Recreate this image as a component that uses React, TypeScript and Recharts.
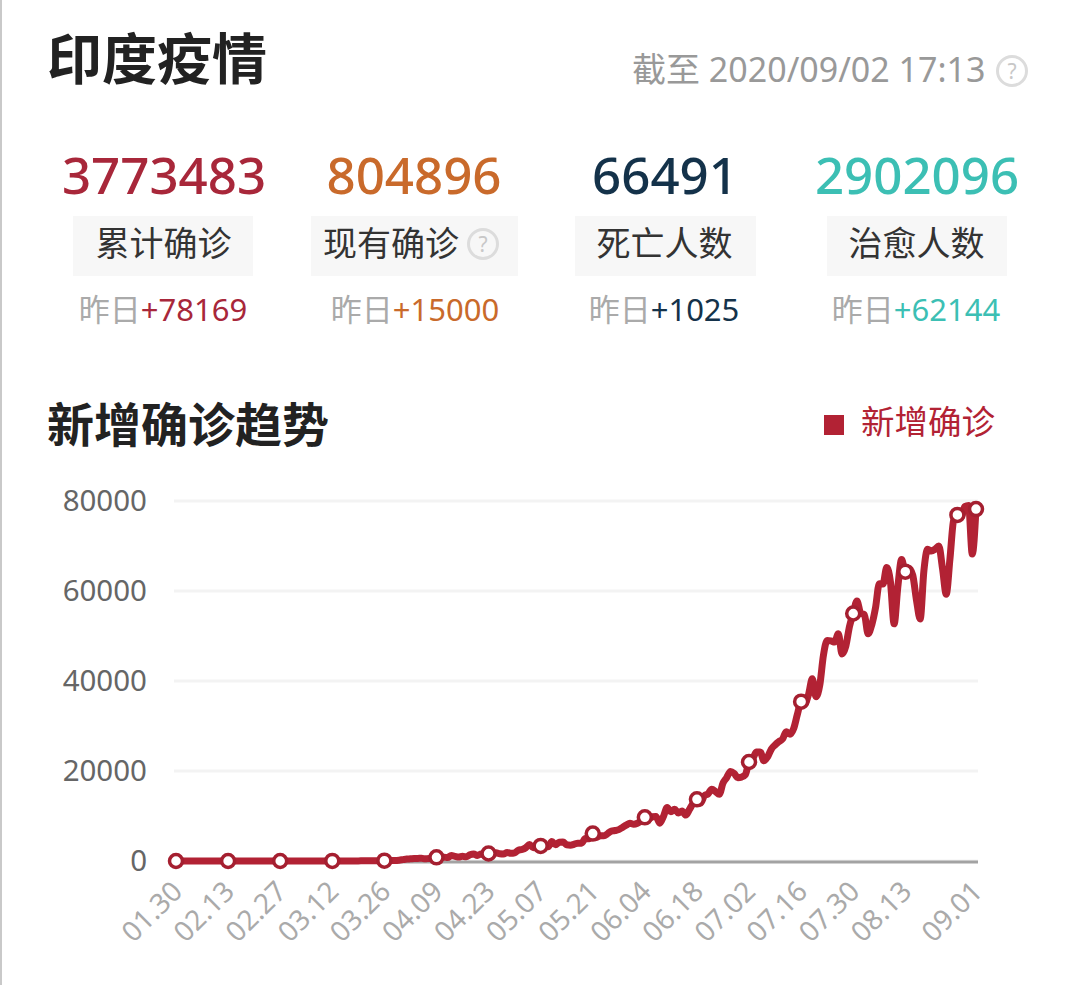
import { LineChart, Line, XAxis, YAxis, CartesianGrid, Legend } from "recharts";

const FONT = '"Noto Sans", "Noto Sans CJK SC", sans-serif';

// one value per day, 01.30 -> 09.01 (rows of ten)
const newConfirmed = [
  1, 0, 0, 1, 0, 0, 0, 0, 0, 0,
  0, 0, 0, 0, 0, 0, 0, 0, 0, 0,
  0, 0, 0, 0, 0, 0, 0, 0, 0, 0,
  0, 0, 2, 1, 22, 2, 1, 3, 5, 9,
  15, 8, 10, 10, 11, 10, 13, 22, 23, 26,
  50, 76, 69, 64, 77, 86, 73, 153, 136, 120,
  187, 309, 424, 486, 560, 579, 609, 484, 573, 565,
  813, 871, 854, 758, 1243, 1031, 886, 1061, 922, 1371,
  1580, 1239, 1537, 1292, 1667, 1408, 1835, 1607, 1568, 1902,
  1705, 1801, 2396, 2564, 2952, 3656, 2971, 3602, 3344, 3339,
  3175, 4311, 3592, 4163, 4213, 3604, 3525, 3722, 3967, 3970,
  4987, 4943, 6088, 5242, 5611, 5609, 6088, 6654, 6767, 6977,
  7466, 7964, 8364, 8171, 8392, 8909, 9700, 9304, 9851, 9887,
  8400, 9900, 11900, 10956, 11502, 10667, 11092, 10200, 11458, 12881,
  13700, 12881, 14516, 14933, 15968, 15413, 14821, 17296, 18552, 19906,
  19459, 18522, 18653, 19148, 22000, 22771, 24200, 24248, 22252, 23135,
  24879, 25790, 26500, 27114, 28701, 28178, 29429, 32607, 35400, 34956,
  37000, 40500, 36500, 39000, 45720, 49000, 48916, 48661, 50500, 46000,
  47704, 52123, 55000, 57800, 55079, 54736, 50500, 52509, 56282, 61600,
  61537, 65200, 62064, 52700, 60963, 67000, 64300, 65002, 63490, 57981,
  53800, 64531, 69300, 68900, 69300, 70000, 65000, 59300, 67151, 75760,
  76900, 76472, 78761, 79000, 68200, 78200,
];

const tickDays = [0, 14, 28, 42, 56, 70, 84, 98, 112, 126, 140, 154, 168, 182, 196, 215];
const tickLabels = [
  "01.30", "02.13", "02.27", "03.12", "03.26", "04.09", "04.23", "05.07",
  "05.21", "06.04", "06.18", "07.02", "07.16", "07.30", "08.13", "09.01",
];
const markerDays = [...tickDays, 210];
const yTicks = [0, 20000, 40000, 60000, 80000];

const statValues = ["3773483", "804896", "66491", "2902096"];
const statNames = ["累计确诊", "现有确诊", "死亡人数", "治愈人数"];
const statDeltas = ["+78169", "+15000", "+1025", "+62144"];
const statColors = ["#a8273a", "#c96a2b", "#14324a", "#3cbfb4"];
const statBoxes = [
  { left: 73, width: 180, center: 164 },
  { left: 311, width: 207, center: 414 },
  { left: 575, width: 181, center: 665 },
  { left: 827, width: 180, center: 917 },
];

const chartData = newConfirmed.map((value, i) => ({ day: i, value }));

function Txt({ x, y, size, color, weight, anchor, children }: any) {
  // y is the vertical middle of the text
  const tx = anchor === "middle" ? "-50%" : anchor === "end" ? "-100%" : "0";
  return (
    <div
      style={{
        position: "absolute",
        left: x,
        top: y,
        transform: `translate(${tx}, -50%)`,
        fontFamily: FONT,
        fontSize: size,
        fontWeight: weight ?? 400,
        color,
        whiteSpace: "nowrap",
        lineHeight: 1.2,
      }}
    >
      {children}
    </div>
  );
}

function HelpIcon({ x, y }: { x: number; y: number }) {
  return (
    <div
      style={{
        position: "absolute",
        left: x - 16,
        top: y - 16,
        width: 32,
        height: 32,
        boxSizing: "border-box",
        border: "3px solid #dcdcdc",
        borderRadius: "50%",
        color: "#c8c8c8",
        fontFamily: FONT,
        fontSize: 21,
        lineHeight: "26px",
        textAlign: "center",
      }}
    >
      ?
    </div>
  );
}

function MarkerDot(props: any) {
  const { cx, cy, index } = props;
  if (!markerDays.includes(index)) return <g key={index} />;
  return <circle key={index} cx={cx} cy={cy} r={6.5} fill="#ffffff" stroke="#a51f30" strokeWidth={3.5} />;
}

export default function App() {
  return (
    <div style={{ position: "absolute", left: 0, top: 0, width: 1080, height: 985, background: "#fff", overflow: "hidden" }}>
      <div style={{ position: "absolute", left: 0, top: 0, width: 2, height: 985, background: "#c9c9c9" }} />

      <Txt x={47} y={58} size={55} weight={700} color="#222">印度疫情</Txt>
      <Txt x={632} y={69} size={34} color="#999">截至 2020/09/02 17:13</Txt>
      <HelpIcon x={1012} y={71} />

      {statValues.map((v, i) => (
        <div key={v}>
          <Txt x={statBoxes[i].center} y={175} size={51} weight={500} anchor="middle" color={statColors[i]}>{v}</Txt>
          <div
            style={{
              position: "absolute",
              left: statBoxes[i].left,
              top: 216,
              width: statBoxes[i].width,
              height: 60,
              background: "#f7f7f7",
            }}
          />
          <Txt x={i === 1 ? 391 : statBoxes[i].center - 0.5} y={243} size={34} anchor="middle" color="#333">{statNames[i]}</Txt>
          <Txt x={statBoxes[i].center - (i === 1 ? -1 : 1)} y={310} size={31} anchor="middle" color="#aaa">
            昨日<span style={{ color: statColors[i] }}>{statDeltas[i]}</span>
          </Txt>
        </div>
      ))}
      <HelpIcon x={483} y={244} />

      <Txt x={47} y={424} size={47} weight={700} color="#222">新增确诊趋势</Txt>

      <div style={{ position: "absolute", left: 0, top: 390 }}>
        <LineChart
          width={1080}
          height={595}
          data={chartData}
          margin={{ top: 62, right: 102, bottom: 0, left: 94 }}
        >
          <CartesianGrid vertical={false} stroke="#f3f3f3" strokeWidth={3} />
          <XAxis
            type="number"
            dataKey="day"
            domain={[0, 215]}
            ticks={tickDays}
            interval={0}
            padding={{ left: 2, right: 2 }}
            height={124}
            tickLine={false}
            axisLine={{ stroke: "#a3a3a3", strokeWidth: 3, transform: "translate(0, 1)" }}
            tickFormatter={(d: number) => tickLabels[tickDays.indexOf(d)]}
            angle={-45}
            textAnchor="end"
            tick={{ fontSize: 28, fill: "#aaaaaa", fontFamily: FONT, dx: -6 }}
            tickMargin={12}
          />
          <YAxis
            width={80}
            domain={[0, 80000]}
            ticks={yTicks}
            tickLine={false}
            axisLine={false}
            tick={{ fontSize: 29.5, fill: "#666666", fontFamily: FONT }}
            tickMargin={21}
          />
          <Legend
            verticalAlign="top"
            align="right"
            iconType="square"
            iconSize={20}
            wrapperStyle={{ top: 5, right: 75, width: "auto", fontFamily: FONT, fontSize: 33.5 }}
            formatter={(name: string) => <span style={{ marginLeft: 13 }}>{name}</span>}
          />
          <Line
            type="monotone"
            dataKey="value"
            name="新增确诊"
            stroke="#b22234"
            strokeWidth={7}
            dot={MarkerDot}
            activeDot={false}
            isAnimationActive={false}
            {...({ zIndex: 550 } as any)}
          />
        </LineChart>
      </div>
    </div>
  );
}
